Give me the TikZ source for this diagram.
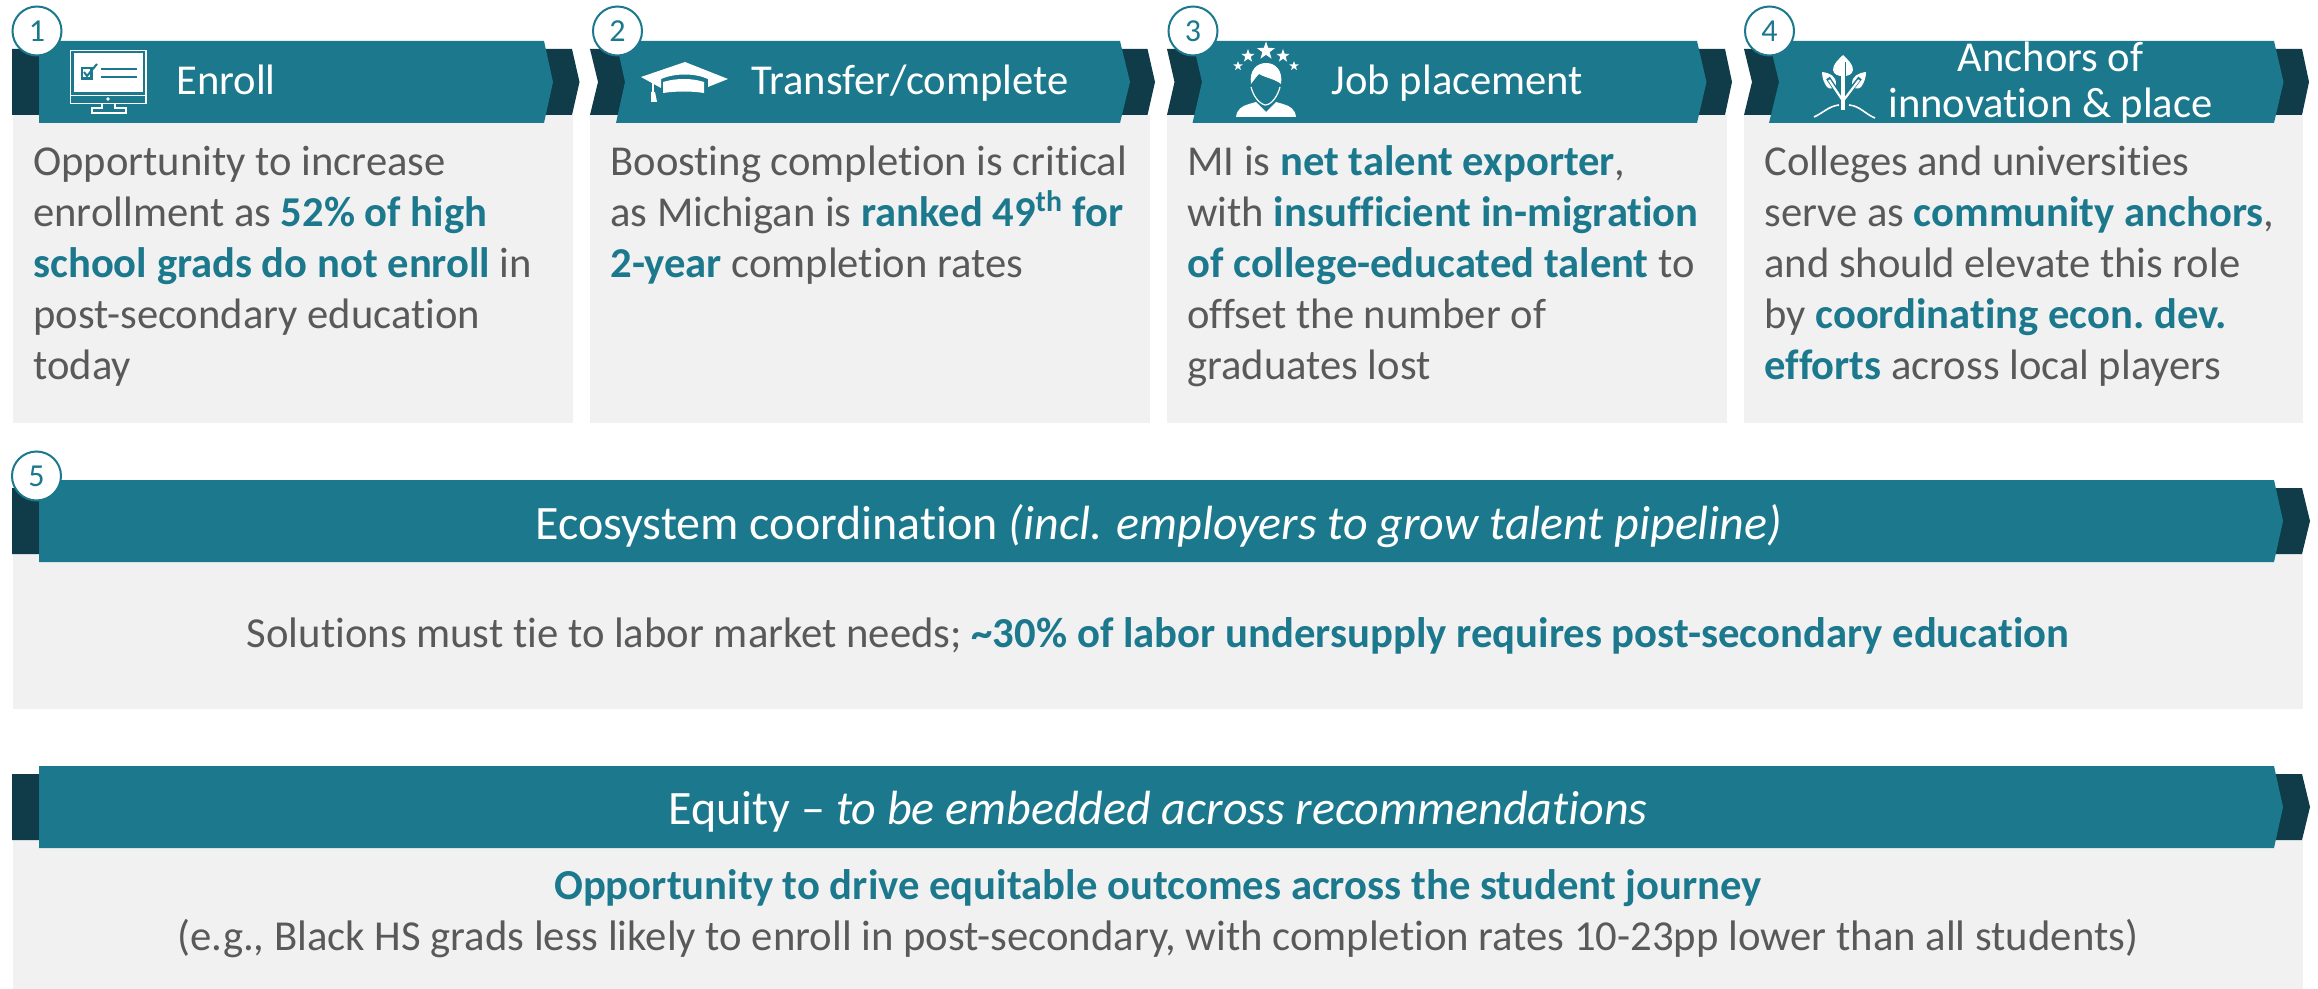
\documentclass[tikz,border=0pt]{standalone}
\usepackage{fontspec}
\setmainfont{Carlito}[Ligatures=NoCommon]
\usetikzlibrary{shapes.geometric}
\definecolor{brandteal}{HTML}{1B788D}
\definecolor{branddark}{HTML}{0F3C48}
\definecolor{panelgrey}{HTML}{F1F1F1}
\definecolor{bodygrey}{HTML}{595959}
\newcommand\tb[1]{\textbf{\textcolor{brandteal}{#1}}}
\newcommand\fl{\rule{0pt}{18pt}}
\tikzset{
  panel/.style={fill=panelgrey,draw=none},
  darkband/.style={fill=branddark,draw=none},
  tealband/.style={fill=brandteal,draw=none},
  badge/.style={circle,draw=brandteal,line width=1pt,fill=white,minimum size=24.5pt,inner sep=0pt,text=brandteal,font=\fontsize{16}{18}\selectfont},
  bodytext/.style={anchor=north west,inner sep=0pt,align=left,text=bodygrey,font=\frenchspacing\fontsize{21.3}{25.5}\selectfont},
  midtext/.style={anchor=north,inner sep=0pt,align=center,text=bodygrey,font=\frenchspacing\fontsize{21.35}{25.5}\selectfont},
  headtext/.style={anchor=base west,inner sep=0pt,text=white,font=\fontsize{21.3}{25}\selectfont},
  bartext/.style={anchor=base,inner sep=0pt,text=white,font=\fontsize{24}{28}\selectfont},
  wline/.style={draw=white,line width=0.8pt,fill=none},
  tline/.style={draw=brandteal,line width=1pt,fill=none},
  starmark/.style={star,star points=5,star point ratio=2.5,fill=white,draw=none,inner sep=0pt}
}
\begin{document}
\begin{tikzpicture}[x=0.5pt,y=-0.5pt]
\useasboundingbox (0,0) rectangle (2318,989);
% panels
\fill[panel] (13,115) rectangle (573,423);
\fill[panel] (590,115) rectangle (1150,423);
\fill[panel] (1167,115) rectangle (1727,423);
\fill[panel] (1744,115) rectangle (2303,423);
\fill[panel] (13,554) rectangle (2303,709);
\fill[panel] (13,840) rectangle (2303,989);
% dark bands
\fill[darkband] (12,49) -- (572,49) -- (579.5,82) -- (572,115) -- (12,115) -- cycle;
\fill[darkband] (590,49) -- (1147.5,49) -- (1155,82) -- (1147.5,115) -- (590,115) -- (598,82) -- cycle;
\fill[darkband] (1167,49) -- (1725,49) -- (1732,82) -- (1725,115) -- (1167,115) -- (1174.5,82) -- cycle;
\fill[darkband] (1744,49) -- (2302,49) -- (2309,82) -- (2302,115) -- (1744,115) -- (1752,82) -- cycle;
\fill[darkband] (12,488) -- (2302,488) -- (2310,521) -- (2302,554) -- (12,554) -- cycle;
\fill[darkband] (12,774) -- (2302,774) -- (2310,807) -- (2302,840) -- (12,840) -- cycle;
% teal bands
\fill[tealband] (39,41) -- (544,41) -- (553,82) -- (544,123) -- (39,123) -- cycle;
\fill[tealband] (616,41) -- (1120,41) -- (1130,82) -- (1120,123) -- (616,123) -- (625,82) -- cycle;
\fill[tealband] (1192.5,41) -- (1697,41) -- (1706.5,82) -- (1697,123) -- (1192.5,123) -- (1202,82) -- cycle;
\fill[tealband] (1769,41) -- (2274,41) -- (2283.5,82) -- (2274,123) -- (1769,123) -- (1779,82) -- cycle;
\fill[tealband] (39,480) -- (2274,480) -- (2283,521) -- (2274,562) -- (39,562) -- cycle;
\fill[tealband] (39,766) -- (2274,766) -- (2283,807) -- (2274,848) -- (39,848) -- cycle;
% badges
\node[badge] (b1) at (37,31) {1};
\node[badge] (b2) at (617.5,31) {2};
\node[badge] (b3) at (1193,31) {3};
\node[badge] (b4) at (1769.5,31) {4};
\node[badge] (b5) at (36.5,476) {5};
% monitor icon
\draw[wline] (70.5,50.5) rectangle (146,103.5);
\fill[white] (74,53.5) rectangle (143,92);
\draw[wline] (70.5,95.5) -- (146,95.5);
\fill[white] (108,99) circle (1.8);
\draw[wline] (102,104) -- (102,108) -- (92,108) -- (92,113) -- (126,113) -- (126,108) -- (115,108) -- (115,104);
\draw[tline,line width=1.2pt] (82,68) rectangle (91.5,78.5);
\draw[tline] (84,72) -- (87,76) -- (97,64);
\draw[tline] (101,69) -- (137,69);
\draw[tline] (101,77) -- (137,77);
% graduation cap icon
\fill[white] (641,77) -- (685,62) -- (728,79) -- (708,87) -- (708,79) .. controls (695,73) and (675,73) .. (661,79) -- (661,88) -- cycle;
\fill[white] (663,82) .. controls (676,78) and (692,78) .. (704,82) -- (704,93) .. controls (692,91) and (676,91) .. (663,93) -- cycle;
\draw[wline] (653,81) -- (653,94);
\fill[white] (651,92) -- (655,92) -- (657,102) -- (651,102) -- cycle;
% person icon
\node[starmark,minimum size=9.5pt] (s1) at (1266,51) {};
\node[starmark,minimum size=7pt] (s2) at (1248,56) {};
\node[starmark,minimum size=7pt] (s3) at (1283,56) {};
\node[starmark,minimum size=5pt] (s4) at (1238,66) {};
\node[starmark,minimum size=5pt] (s5) at (1294,66) {};
\fill[white] (1251,84) .. controls (1249,70) and (1257,63) .. (1266,63) .. controls (1276,63) and (1283,71) .. (1281,84) .. controls (1275,79) and (1266,78) .. (1259,74) .. controls (1256,77) and (1254,80) .. (1251,84) -- cycle;
\draw[wline,line width=0.6pt] (1251,87) .. controls (1253,95) and (1258,103) .. (1265,105) .. controls (1272,105) and (1278,95) .. (1280,87);
\fill[white] (1236,117) .. controls (1237,109) and (1242,106) .. (1249,104) -- (1256,102) -- (1266,112) -- (1276,102) -- (1283,104) .. controls (1290,106) and (1295,109) .. (1296,117) -- cycle;
% plant icon
\fill[white] (1843,55) .. controls (1848,60) and (1853,64) .. (1853,70) .. controls (1852,75) and (1848,76) .. (1843,76) .. controls (1838,76) and (1834,75) .. (1833,70) .. controls (1833,64) and (1838,60) .. (1843,55) -- cycle;
\fill[white] (1822,72) .. controls (1830,73) and (1836,76) .. (1836,84) .. controls (1835,89) and (1830,90) .. (1827,87) .. controls (1824,83) and (1822,78) .. (1822,72) -- cycle;
\fill[white] (1866,72) .. controls (1858,73) and (1852,76) .. (1852,84) .. controls (1853,89) and (1858,90) .. (1861,87) .. controls (1864,83) and (1866,78) .. (1866,72) -- cycle;
\draw[brandteal,line width=2.5pt] (1843,62) -- (1843,85);
\draw[brandteal,line width=2.2pt] (1828,78) -- (1840,96);
\draw[brandteal,line width=2.2pt] (1860,78) -- (1846,96);
\draw[white,line width=1.1pt] (1829,80) -- (1843,101);
\draw[white,line width=1.1pt] (1859,80) -- (1843,101);
\draw[white,line width=1.7pt] (1843,62) -- (1843,110);
\draw[wline] (1814,117) .. controls (1823,113) and (1829,106) .. (1839,105);
\draw[wline] (1849,105) .. controls (1860,106) and (1865,114) .. (1875,118);
% header labels
\node[headtext] (h1) at (176,94.5) {Enroll};
\node[headtext] (h2) at (751,94.5) {Transfer/complete};
\node[headtext] (h3) at (1331.5,94.5) {Job placement};
\node[anchor=north,inner sep=0pt,align=center,text=white,font=\fontsize{21.3}{23.2}\selectfont] (h4) at (2050.5,35) {\fl Anchors of\\innovation \& place};
% body texts
\node[bodytext] (t1) at (33,139) {\fl Opportunity to increase\\enrollment as \tb{52\% of high}\\\tb{school grads do not enroll} in\\post-secondary education\\today};
\node[bodytext] (t2) at (610,139) {\fl Boosting completion is critical\\as Michigan is \tb{ranked 49\textsuperscript{th} for}\\\tb{2-year} completion rates};
\node[bodytext] (t3) at (1187,139) {\fl MI is \tb{net talent exporter},\\with \tb{insufficient in-migration}\\\tb{of college-educated talent} to\\offset the number of\\graduates lost};
\node[bodytext] (t4) at (1764,139) {\fl Colleges and universities\\serve as \tb{community anchors},\\and should elevate this role\\by \tb{coordinating econ. dev.}\\\tb{efforts} across local players};
% wide bars
\node[bartext] (h5) at (1159,539) {Ecosystem coordination \textit{(incl. employers to grow talent pipeline)}};
\node[midtext] (t5) at (1158,611) {\fl Solutions must tie to labor market needs; \tb{\textasciitilde30\% of labor undersupply requires post-secondary education}};
\node[bartext] (h6) at (1158,824) {Equity -- \textit{to be embedded across recommendations}};
\node[midtext] (t6) at (1158,863) {\fl\tb{Opportunity to drive equitable outcomes across the student journey}\\(e.g., Black HS grads less likely to enroll in post-secondary, with completion rates 10-23pp lower than all students)};
\end{tikzpicture}
\end{document}
